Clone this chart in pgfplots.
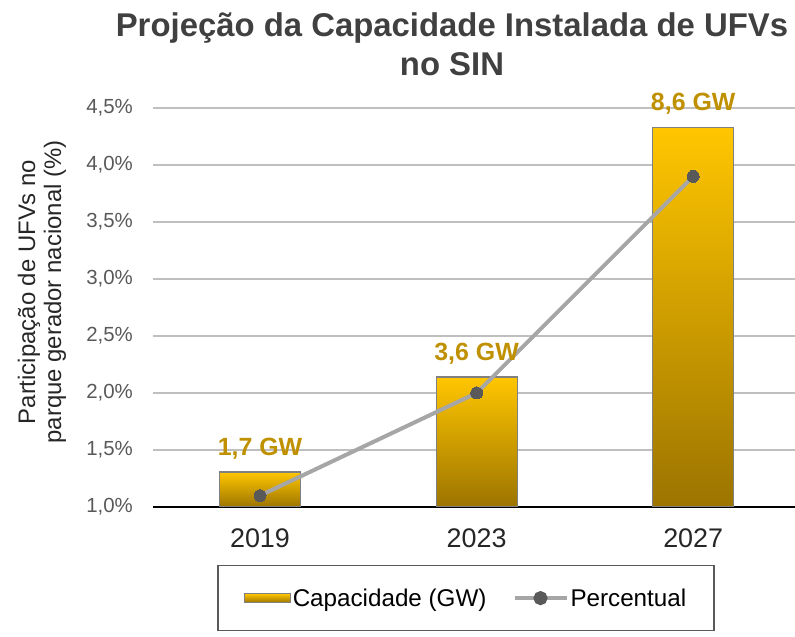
\documentclass[border=0pt]{standalone}
\usepackage{fontspec}
\setmainfont{Liberation Sans}
\usepackage{pgfplots}
\pgfplotsset{compat=1.18}

\definecolor{goldtop}{RGB}{255,198,0}
\definecolor{goldbot}{RGB}{156,116,0}
\definecolor{lblgold}{RGB}{191,144,0}
\definecolor{linegray}{RGB}{166,166,166}
\definecolor{markgray}{RGB}{89,89,89}
\definecolor{ticktxt}{RGB}{89,89,89}
\definecolor{titletxt}{RGB}{64,64,64}
\definecolor{gridc}{RGB}{191,191,191}

% one bar per plot, so that each bar gets its own gradient
\pgfplotsset{goldbar/.style={ybar, bar shift=0pt, bar width=81bp, draw=gray, line width=1.2bp,
    top color=goldtop, bottom color=goldbot,
    nodes near coords, point meta=explicit symbolic,
    every node near coord/.append style={font=\fontsize{25}{29}\selectfont\bfseries,
        text=lblgold, inner sep=0pt, yshift=12bp}}}

\begin{document}
\begin{tikzpicture}
\useasboundingbox (0,0) rectangle (795bp,637bp);

% title and y label
\node[anchor=north, inner sep=0pt, align=center, text=titletxt,
      font=\fontsize{33}{40}\selectfont\bfseries] at (452bp,625bp)
  {Projeção da Capacidade Instalada de UFVs\\no SIN};
\node[rotate=90, inner sep=0pt, align=center, text=black!85,
      font=\fontsize{24}{26}\selectfont] at (42bp,345bp)
  {Participação de UFVs no\\parque gerador nacional (\%)};

\begin{axis}[
    at={(153bp,130bp)}, anchor=south west,
    scale only axis,
    width=642bp, height=399bp,
    xmin=-0.494, xmax=2.47,
    ymin=1, ymax=4.5,
    y coord trafo/.code={\pgfmathparse{#1-1}},
    y coord inv trafo/.code={\pgfmathparse{#1+1}},
    xtick={0,1,2}, xticklabels={2019,2023,2027},
    ytick={1,1.5,2,2.5,3,3.5,4,4.5},
    /pgf/number format/assume math mode=true,
    yticklabel={\pgfmathprintnumber[fixed,fixed zerofill,precision=1,use comma]{\tick}\%},
    yticklabel style={font=\fontsize{20.5}{24}\selectfont, text=ticktxt, inner sep=0pt, xshift=-20bp},
    xticklabel style={font=\fontsize{27}{31}\selectfont, text=black!85, inner sep=0pt, yshift=-22bp},
    major tick length=0pt,
    axis x line*=bottom, axis y line*=left,
    y axis line style={draw=none},
    x axis line style={black, line width=1.5bp},
    ymajorgrids,
    major grid style={gridc, line width=1.5bp},
    legend columns=2,
    legend cell align=left,
    legend style={at={(0.0997,-0.145)}, anchor=north west,
        draw=markgray, line width=1.5bp,
        inner xsep=26bp, inner ysep=21bp,
        font=\fontsize{24.3}{28}\selectfont,
        nodes={inner sep=2bp},
        /tikz/every even column/.append style={column sep=24bp}},
]
\addplot[goldbar,
    legend image code/.code={\path[draw=gray, line width=1bp, top color=goldtop, bottom color=goldbot]
        (0bp,-4.5bp) rectangle (46bp,4.5bp);}]
coordinates {(0,1.307) [1,7 GW]};
\addlegendentry{Capacidade (GW)}
\addplot[goldbar, forget plot] coordinates {(1,2.14) [3,6 GW]};
\addplot[goldbar, forget plot] coordinates {(2,4.33) [8,6 GW]};

\addplot[linegray, line width=4bp, mark=*, mark size=6bp,
    mark options={fill=markgray, draw=markgray, line width=0pt},
    legend image code/.code={\draw[linegray, line width=4bp] (0bp,0bp) -- (52bp,0bp);
        \fill[markgray] (26bp,0bp) circle (5bp);}]
coordinates {(0,1.1) (1,2.0) (2,3.9)};
\addlegendentry{Percentual}
\end{axis}
\end{tikzpicture}
\end{document}
